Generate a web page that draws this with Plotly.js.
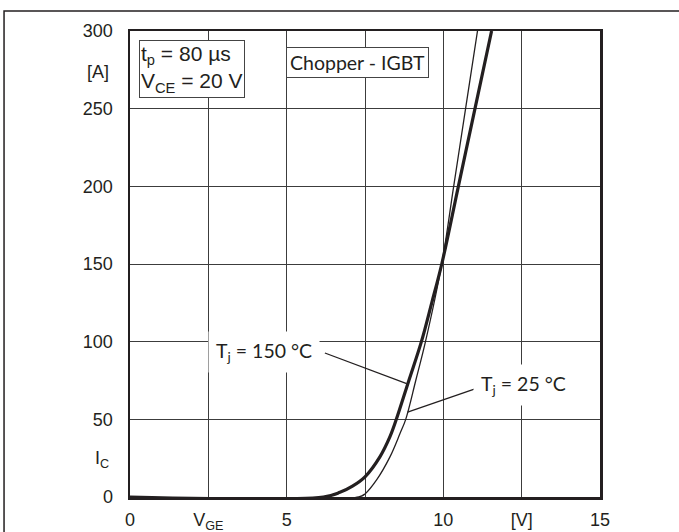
<!DOCTYPE html>
<html>
<head>
<meta charset="utf-8">
<script src="https://cdn.plot.ly/plotly-3.0.1.min.js"></script>
<style>html,body{margin:0;padding:0;background:#fff;}#chart{width:679px;height:532px;}</style>
</head>
<body>
<div id="chart"></div>
<script>
// Tj = 150 °C (thick curve)
const vge150 = [0, 6.17, 6.70, 7.10, 7.5, 7.98, 8.30, 8.50, 8.90, 9.30, 9.63, 9.95, 10.48, 11.01, 11.54];
const ic150  = [0, 0, 3, 7, 13, 26, 39, 50, 75, 100, 125, 150, 200, 250, 300];
// Tj = 25 °C (thin curve)
const vge25 = [0, 7.30, 7.5, 7.87, 8.30, 8.62, 8.80, 9.12, 9.43, 9.95, 10.33, 10.71, 11.09];
const ic25  = [0, 0, 2, 11, 26, 41, 50, 75, 100, 150, 200, 250, 300];

const xTickVals = [0, 2.5, 5, 7.5, 10, 12.5, 15];
const xTickText = ['0', 'V<sub>GE</sub>', '5', '', '10', '[V]', '15'];
const yTickVals = [0, 50, 100, 150, 200, 250, 300];
const yTickText = ['0', '50', '100', '150', '200', '250', '300'];

const ink = '#231f20';
const tickFont = {family: 'Liberation Sans, Arial, sans-serif', size: 18, color: ink};
const boxFont = {family: 'Liberation Sans, Arial, sans-serif', size: 21, color: ink};
const noteFont = {family: 'Lato, Carlito, sans-serif', size: 19.5, color: ink};

const traces = [
  {x: vge25, y: ic25, type: 'scatter', mode: 'lines', name: 'Tj = 25 °C',
   line: {color: ink, width: 1.3, shape: 'spline', smoothing: 1}, hoverinfo: 'skip'},
  {x: vge150, y: ic150, type: 'scatter', mode: 'lines', name: 'Tj = 150 °C',
   line: {color: ink, width: 3.2, shape: 'spline', smoothing: 1}, hoverinfo: 'skip'}
];

const layout = {
  width: 679, height: 532,
  margin: {l: 130, r: 79, t: 31, b: 35, pad: 0},
  paper_bgcolor: '#fff', plot_bgcolor: '#fff',
  showlegend: false,
  xaxis: {range: [0, 15], tickvals: xTickVals, ticktext: xTickText, ticks: '',
          showgrid: true, gridcolor: '#3c3c3c', gridwidth: 1, zeroline: false,
          showline: true, linecolor: ink, linewidth: 2.5, mirror: true,
          tickfont: tickFont, ticklabelstandoff: 5, fixedrange: true},
  yaxis: {range: [0, 300], tickvals: yTickVals, ticktext: yTickText, ticks: '',
          showgrid: true, gridcolor: '#3c3c3c', gridwidth: 1, zeroline: false,
          showline: true, linecolor: ink, linewidth: 2.5, mirror: true,
          tickfont: tickFont, ticklabelstandoff: 11, fixedrange: true},
  shapes: [
    // outer frame of the figure
    {type: 'rect', xref: 'paper', yref: 'paper', x0: -0.268, x1: 1.2, y0: -0.2, y1: 1.043,
     line: {color: ink, width: 1.5}, fillcolor: 'rgba(0,0,0,0)', layer: 'above'},
    // leader lines
    {type: 'line', xref: 'x', yref: 'y', x0: 6.22, y0: 92.7, x1: 8.83, y1: 73,
     line: {color: ink, width: 1.3}, layer: 'above'},
    {type: 'line', xref: 'x', yref: 'y', x0: 11.08, y0: 70.1, x1: 8.86, y1: 54.7,
     line: {color: ink, width: 1.3}, layer: 'above'}
  ],
  annotations: [
    {xref: 'paper', yref: 'y', x: -0.04, y: 273.5, xanchor: 'right', yanchor: 'middle',
     text: '[A]', showarrow: false, font: tickFont},
    {xref: 'paper', yref: 'y', x: -0.04, y: 24, xanchor: 'right', yanchor: 'middle',
     text: 'I<sub>C</sub>', showarrow: false, font: tickFont},
    {xref: 'x', yref: 'y', x: 0.3, y: 294.5, xanchor: 'left', yanchor: 'top', align: 'left',
     text: 't<sub>p</sub> = 80 µs<br>V<sub>CE</sub> = 20 V', showarrow: false, font: boxFont,
     bgcolor: '#fff', bordercolor: '#444', borderwidth: 1, borderpad: 1},
    {xref: 'x', yref: 'y', x: 7.26, y: 279.6, xanchor: 'center', yanchor: 'middle',
     text: 'Chopper - IGBT', showarrow: false, font: noteFont,
     bgcolor: '#fff', bordercolor: '#444', borderwidth: 1, borderpad: 3},
    {xref: 'x', yref: 'y', x: 4.28, y: 93.3, xanchor: 'center', yanchor: 'middle',
     text: 'T<sub>j</sub> = 150 °C', showarrow: false, font: noteFont,
     bgcolor: '#fff', borderpad: 7},
    {xref: 'x', yref: 'y', x: 12.57, y: 72, xanchor: 'center', yanchor: 'middle',
     text: 'T<sub>j</sub> = 25 °C', showarrow: false, font: noteFont,
     bgcolor: '#fff', borderpad: 7}
  ]
};

Plotly.newPlot('chart', traces, layout, {staticPlot: true, displayModeBar: false});
</script>
</body>
</html>
